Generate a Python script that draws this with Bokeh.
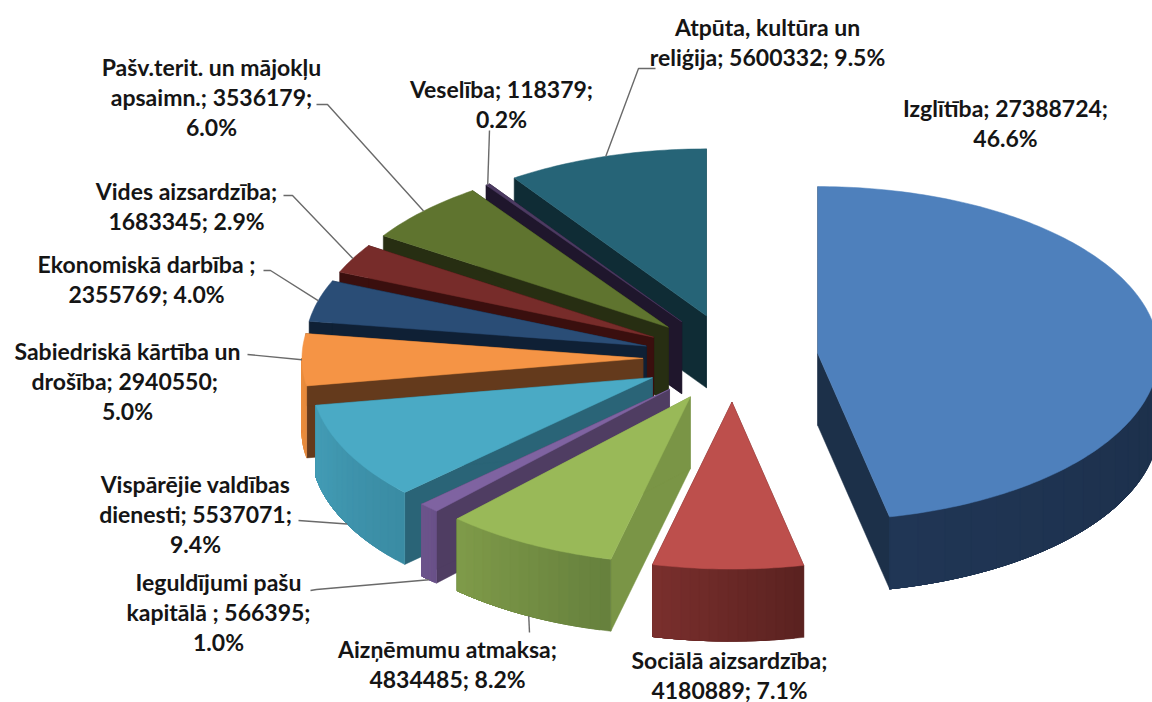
import math
from bokeh.plotting import figure
from bokeh.models import Range1d, ColumnDataSource
from bokeh.core.properties import value
from bokeh.embed import file_html
from bokeh.resources import INLINE

# ---- data (clockwise from 12 o'clock) ----
names = ["Izglītība", "Sociālā aizsardzība", "Aizņēmumu atmaksa", "Ieguldījumi pašu\nkapitālā ",
         "Vispārējie valdības\ndienesti", "Sabiedriskā kārtība un\ndrošība", "Ekonomiskā darbība ",
         "Vides aizsardzība", "Pašv.terit. un mājokļu\napsaimn.", "Veselība", "Atpūta, kultūra un\nreliģija"]
values = [27388724, 4180889, 4834485, 566395, 5537071, 2940550, 2355769, 1683345, 3536179, 118379, 5600332]
percents = ["46.6%", "7.1%", "8.2%", "1.0%", "9.4%", "5.0%", "4.0%", "2.9%", "6.0%", "0.2%", "9.5%"]
label_forms = ["{n}; {v};\n{p}", "{n};\n{v}; {p}", "{n};\n{v}; {p}", "{n}; {v};\n{p}", "{n}; {v};\n{p}",
               "{n};  {v};\n{p}", "{n};\n{v}; {p}", "{n};\n{v}; {p}", "{n}; {v};\n{p}", "{n}; {v};\n{p}",
               "{n}; {v}; {p}"]

# ---- styles ----
top_colors = ["#4E80BC", "#BD4F4C", "#99B958", "#7F63A1", "#4AAAC5", "#F59445", "#2A4D76", "#772C2A", "#5F742F", "#4D3B62", "#266477"]
cut_colors = ["#1C3049", "#5A2220", "#7A9546", "#4F3D62", "#2A6477", "#643A1C", "#0F2035", "#3A0F0E", "#272E12", "#1F162C", "#0F2C35"]
wall_low = ["#1C2F4A", "#5A2220", "#66803D", "#6B528A", "#3A8BA3", "#E58A3E", "#1A2F4A", "#4A1B1A", "#3A471D", "#2E233A", "#173D48"]
wall_high = ["#203655", "#7A2F2D", "#7F9B49", "#6D568C", "#439DB6", "#EC8F40", "#1A2F4A", "#4A1B1A", "#3A471D", "#2E233A", "#173D48"]

# ---- layout ----
CX, CY = 732.5, 357.5
RX, RY = 341.0, 167.0
EXPLODE = [0.25] + [0.264] * 10
DEPTH = 72.0
label_pos = [(1005, 107), (729, 659), (447, 648), (218, 581), (195, 483), (127, 350), (146, 263), (186, 190), (211, 66), (501, 88), (767, 26)]
leader_elbows = [None, None, None, [(310, 590), (316, 589)], [(298, 520)], [(247, 354)], [(263, 270), (270, 270)],
                 [(283, 195), (292, 195)], [(316, 104), (327, 104)], None, [(655, 68), (638, 68)]]
leader_on_wall = [False, False, True, True, True, False, False, False, False, False, False]
leader_extra = {2: (529, 632), 9: (489, 130)}


def hex2rgb(h):
    return tuple(int(h[i:i + 2], 16) for i in (1, 3, 5))


def mix(a, b, t):
    ca, cb = hex2rgb(a), hex2rgb(b)
    return "#%02x%02x%02x" % tuple(round(x + (y - x) * t) for x, y in zip(ca, cb))


total = sum(values)
xs, ys, cols = [], [], []
lx, ly = [], []
tx, ty, tt = [], [], []


def add(px, py, c):
    xs.append(px)
    ys.append(py)
    cols.append(c)


cum = 0.0
slices = []
for i, v in enumerate(values):
    t0 = cum / total * 2 * math.pi
    cum += v
    t1 = cum / total * 2 * math.pi
    slices.append((i, t0, t1))

# painter's order: back slices first, the largest, front-right slice last
order = [10, 9, 8, 7, 6, 5, 4, 3, 2, 1, 0]
for i in order:
    _, t0, t1 = next(s for s in slices if s[0] == i)
    tm = (t0 + t1) / 2
    ax = CX + RX * EXPLODE[i] * math.sin(tm)
    ay = CY - RY * EXPLODE[i] * math.cos(tm)
    pt = lambda t: (ax + RX * math.sin(t), ay - RY * math.cos(t))
    n = max(3, int((t1 - t0) / math.radians(1.0)))
    arc = [pt(t0 + (t1 - t0) * k / n) for k in range(n + 1)]
    # cut faces
    for (ex, ey) in (arc[0], arc[-1]):
        add([ax, ex, ex, ax], [ay, ey, ey + DEPTH, ay + DEPTH], cut_colors[i])
    # curved wall, only where it faces the viewer; each band runs to the wall's end so no seams show
    m = 16
    lo, hi = max(t0, math.pi / 2), min(t1, 3 * math.pi / 2)
    if hi > lo:
        for k in range(m):
            a0 = lo + (hi - lo) * k / m
            q = [pt(a0 + (hi - a0) * j / 24) for j in range(25)]
            add([c[0] for c in q] + [c[0] for c in q[::-1]],
                [c[1] for c in q] + [c[1] + DEPTH for c in q[::-1]],
                mix(wall_low[i], wall_high[i], (k + .5) / m))
    # top
    add([ax] + [c[0] for c in arc], [ay] + [c[1] for c in arc], top_colors[i])
    # leader
    tipx, tipy = pt(tm)
    if leader_on_wall[i]:
        tipy += DEPTH
    pts = None
    if leader_elbows[i] is not None:
        pts = list(leader_elbows[i]) + [(tipx, tipy)]
    elif i in leader_extra:
        pts = [leader_extra[i], (tipx, tipy)]
    if pts:
        lx.append([c[0] for c in pts])
        ly.append([c[1] for c in pts])
    # label, one text per line
    label = label_forms[i].format(n=names[i], v=values[i], p=percents[i])
    for j, line in enumerate(label.split("\n")):
        tx.append(label_pos[i][0])
        ty.append(label_pos[i][1] + j * 30.0)
        tt.append(line)

p = figure(width=1152, height=702, x_range=Range1d(0, 1152), y_range=Range1d(702, 0),
           output_backend="svg", toolbar_location=None, min_border=0, margin=(0, 0, 0, 0))
p.axis.visible = False
p.grid.visible = False
p.outline_line_color = None
p.background_fill_color = "white"
p.patches(xs="x", ys="y", fill_color="c", line_color="c", line_width=0.5,
          source=ColumnDataSource(dict(x=xs, y=ys, c=cols)))
p.multi_line(xs=lx, ys=ly, line_color="#6a6a6a", line_width=1.4)
p.text(x=tx, y=ty, text=tt, text_font=value("Lato"), text_font_style="bold", text_font_size="23px",
       text_color="#151515", text_align="center", text_baseline="middle")

open("out.html", "w").write(file_html(p, INLINE))
